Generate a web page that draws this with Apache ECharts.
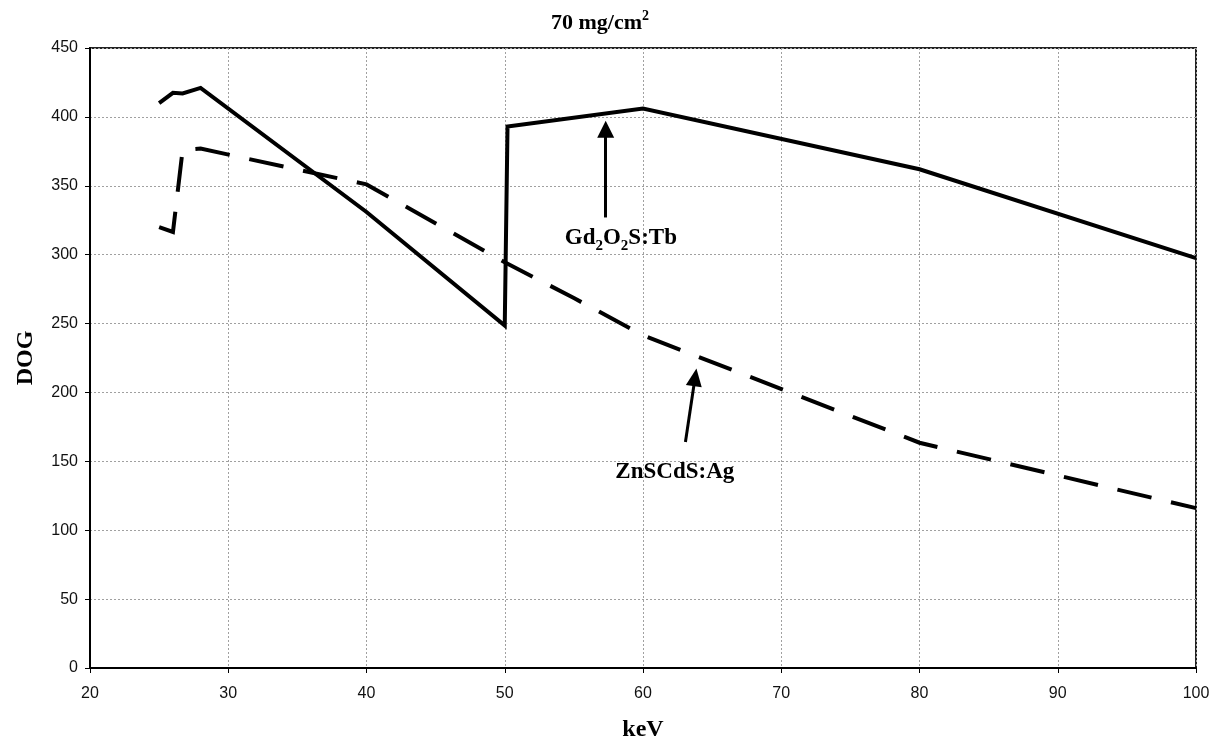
<!DOCTYPE html>
<html>
<head>
<meta charset="utf-8">
<script src="https://cdn.jsdelivr.net/npm/echarts@6/dist/echarts.min.js"></script>
<style>
  html, body { margin: 0; padding: 0; background: #fff; }
  #chart { width: 1214px; height: 739px; }
</style>
</head>
<body>
<div id="chart"></div>
<script>
// Detector output (DOG) versus photon energy for two phosphors, 70 mg/cm2 coating
const gdEnergy = [25, 26, 26.7, 28, 40, 50, 50.2, 60, 80, 100];
const gdDog    = [410, 417.5, 417, 421, 331, 248.5, 393, 406, 362, 297.5];

const znEnergy = [25, 26, 26.7, 28, 40, 50, 55, 60, 80, 100];
const znDog    = [320, 316.5, 376, 377, 351, 294.5, 268.5, 241.5, 163.5, 116];

const xTicks = { min: 20, max: 100, step: 10 };
const yTicks = { min: 0, max: 450, step: 50 };

// Callout arrows: [energy, DOG] for tail and head of each arrow, plus label anchor
const gdArrowTail = [57.3, 327];
const gdArrowHead = [57.3, 391];
const gdLabelAt   = [58.4, 312];
const znArrowTail = [63.07, 164];
const znArrowHead = [63.77, 211];
const znLabelAt   = [62.3, 142.5];

const pairs = (xs, ys) => xs.map((x, i) => [x, ys[i]]);

const serif = 'Liberation Serif';
const sans = 'Liberation Sans';

const labelRich = {
  b: { fontFamily: serif, fontWeight: 'bold', fontSize: 23, color: '#000', lineHeight: 30 },
  s: { fontFamily: serif, fontWeight: 'bold', fontSize: 15, color: '#000', lineHeight: 15, verticalAlign: 'bottom' }
};

const chart = echarts.init(document.getElementById('chart'), null, { renderer: 'canvas' });

const option = {
  animation: false,
  backgroundColor: '#fff',
  grid: {
    left: 90, right: 18, top: 48, bottom: 71,
    containLabel: false,
    outerBoundsMode: 'none',
    show: true, borderColor: '#222', borderWidth: 2, backgroundColor: '#fff'
  },
  graphic: [{
    type: 'text',
    x: 600, y: 23,
    style: {
      text: '{t|70 mg/cm}{p|2}',
      align: 'center', verticalAlign: 'middle',
      rich: {
        t: { fontFamily: serif, fontWeight: 'bold', fontSize: 22, color: '#000', lineHeight: 28 },
        p: { fontFamily: serif, fontWeight: 'bold', fontSize: 14, color: '#000', lineHeight: 14, verticalAlign: 'top' }
      }
    }
  }],
  xAxis: {
    type: 'value',
    min: xTicks.min, max: xTicks.max, interval: xTicks.step,
    name: 'keV', nameLocation: 'middle', nameGap: 50,
    nameTextStyle: { fontFamily: serif, fontWeight: 'bold', fontSize: 24, color: '#000' },
    axisLine: { show: true, onZero: false, lineStyle: { color: '#000', width: 2 } },
    axisTick: { show: true, length: 5, lineStyle: { color: '#000', width: 1 } },
    axisLabel: { margin: 18, fontFamily: sans, fontSize: 16, color: '#111' },
    splitLine: { show: true, lineStyle: { color: '#a0a0a0', width: 1, type: [2, 2] } }
  },
  yAxis: {
    type: 'value',
    min: yTicks.min, max: yTicks.max, interval: yTicks.step,
    name: 'DOG', nameLocation: 'middle', nameGap: 52,
    nameTextStyle: { fontFamily: serif, fontWeight: 'bold', fontSize: 24, color: '#000' },
    axisLine: { show: true, lineStyle: { color: '#000', width: 2 } },
    axisTick: { show: true, length: 5, lineStyle: { color: '#000', width: 1 } },
    axisLabel: { margin: 12, fontFamily: sans, fontSize: 16, color: '#111' },
    splitLine: { show: true, lineStyle: { color: '#a0a0a0', width: 1, type: [2, 2] } }
  },
  series: [
    {
      name: 'Gd2O2S:Tb',
      type: 'line',
      data: pairs(gdEnergy, gdDog),
      showSymbol: false,
      symbol: 'none',
      lineStyle: { color: '#000', width: 4, join: 'miter' },
      silent: true,
      markLine: {
        silent: true,
        symbol: ['none', 'triangle'],
        symbolSize: [17, 17],
        label: { show: false },
        lineStyle: { color: '#000', width: 3, type: 'solid' },
        data: [[{ coord: gdArrowTail }, { coord: gdArrowHead }]]
      },
      markPoint: {
        silent: true,
        symbol: 'circle', symbolSize: 0,
        label: { show: true, position: 'inside', formatter: '{b|Gd}{s|2}{b|O}{s|2}{b|S:Tb}', rich: labelRich },
        data: [{ coord: gdLabelAt }]
      }
    },
    {
      name: 'ZnSCdS:Ag',
      type: 'line',
      data: pairs(znEnergy, znDog),
      showSymbol: false,
      symbol: 'none',
      lineStyle: { color: '#000', width: 4, type: [35, 20], join: 'miter' },
      silent: true,
      markLine: {
        silent: true,
        symbol: ['none', 'triangle'],
        symbolSize: [16, 18],
        label: { show: false },
        lineStyle: { color: '#000', width: 3, type: 'solid' },
        data: [[{ coord: znArrowTail }, { coord: znArrowHead }]]
      },
      markPoint: {
        silent: true,
        symbol: 'circle', symbolSize: 0,
        label: { show: true, position: 'inside', formatter: '{b|ZnSCdS:Ag}', rich: labelRich },
        data: [{ coord: znLabelAt }]
      }
    }
  ]
};

chart.setOption(option);
</script>
</body>
</html>
